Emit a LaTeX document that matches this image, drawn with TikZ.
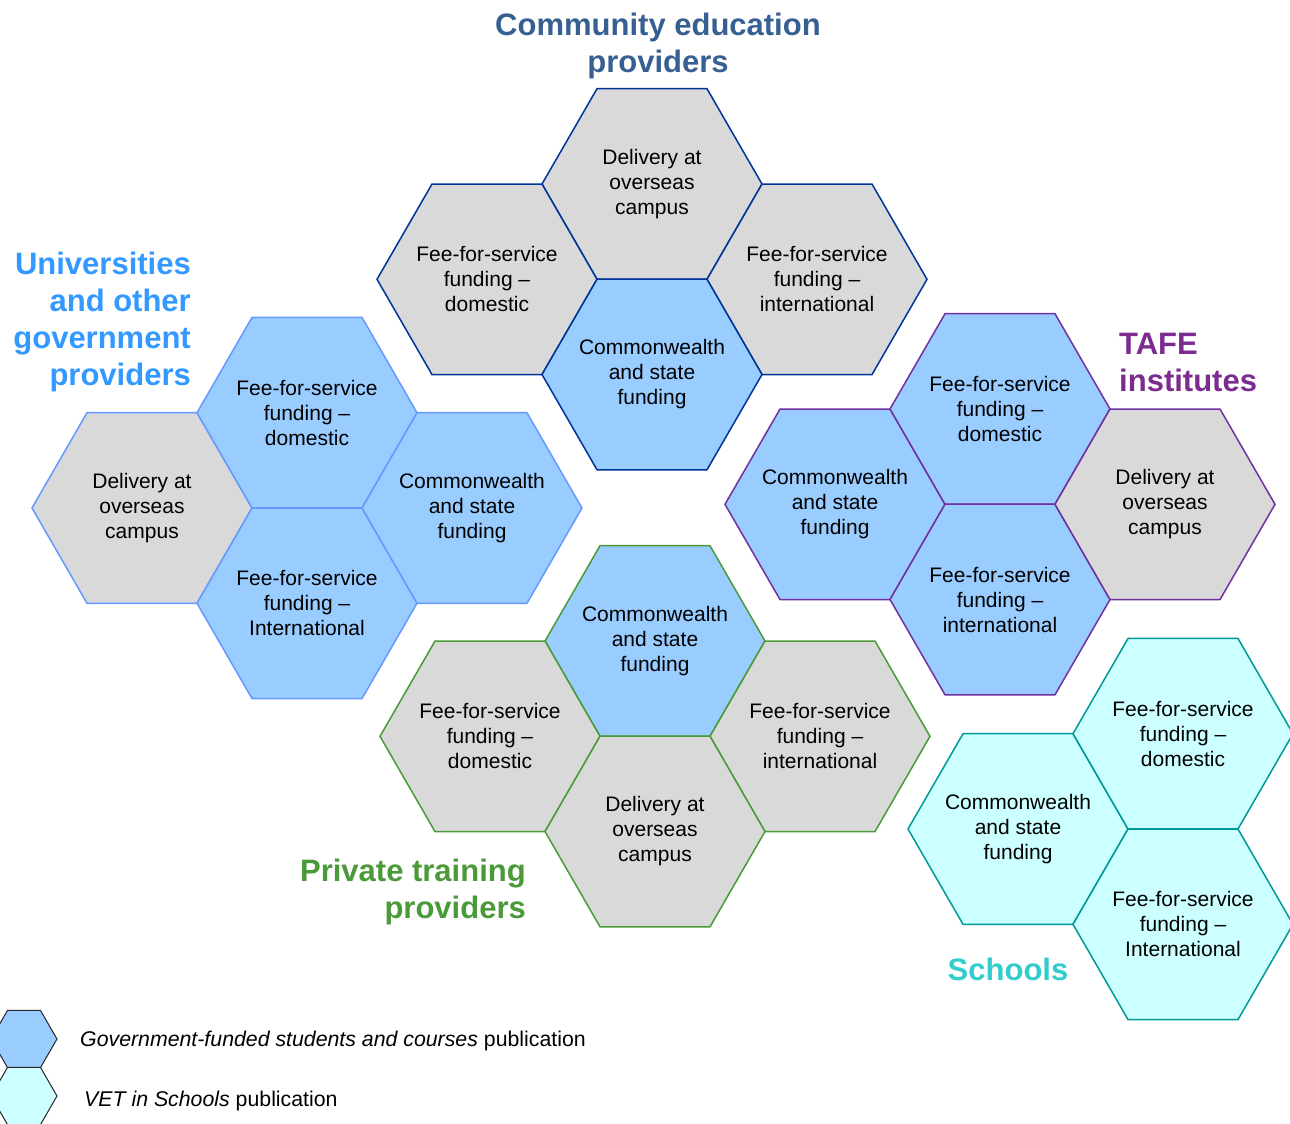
\documentclass[tikz,border=0pt]{standalone}
\usepackage{fontspec}
\setmainfont{Liberation Sans}
\usetikzlibrary{shapes.geometric}
\definecolor{hexgrey}{HTML}{D9D9D9}
\definecolor{hexblue}{HTML}{99CCFF}
\definecolor{hexcyan}{HTML}{CCFFFF}
\definecolor{celine}{HTML}{003399}
\definecolor{uniline}{HTML}{6699FF}
\definecolor{tafeline}{HTML}{7030A0}
\definecolor{ptpline}{HTML}{4A9A3A}
\definecolor{schline}{HTML}{009999}
\definecolor{cetitle}{HTML}{376092}
\definecolor{unititle}{HTML}{3399FF}
\definecolor{tafetitle}{HTML}{7B2C8E}
\definecolor{ptptitle}{HTML}{4A9A3A}
\definecolor{schtitle}{HTML}{33CCCC}
\begin{document}
\begin{tikzpicture}[x=1pt, y=-1pt,
    hex/.style={regular polygon, regular polygon sides=6, minimum size=220pt,
        inner sep=-20pt, line width=1.5pt, align=center,
        font=\fontsize{21}{25}\selectfont},
    greyhex/.style={hex, fill=hexgrey},
    bluehex/.style={hex, fill=hexblue},
    cyanhex/.style={hex, fill=hexcyan},
    keyhex/.style={regular polygon, regular polygon sides=6, minimum size=66pt,
        inner sep=0pt, line width=1pt, draw=black!85},
    title/.style={font=\fontsize{31}{37}\selectfont\bfseries, inner sep=0pt}]
    \useasboundingbox (0,0) rectangle (1290,1124);
    % community education providers
    \node[greyhex, draw=celine] (ceD) at (652,184) {Delivery at\\overseas\\campus};
    \node[greyhex, draw=celine] (ceFD) at (487,279.3) {Fee-for-service\\funding --\\domestic};
    \node[greyhex, draw=celine] (ceFI) at (817,279.3) {Fee-for-service\\funding --\\international};
    \node[bluehex, draw=celine] (ceCS) at (652,374.5) {Commonwealth\\and state\\funding};
    \node[title, text=cetitle, align=center] (ceT) at (658,46) {Community education\\providers};
    % universities
    \node[greyhex, draw=uniline] (uniD) at (142,508) {Delivery at\\overseas\\campus};
    \node[bluehex, draw=uniline] (uniFD) at (307,412.7) {Fee-for-service\\funding --\\domestic};
    \node[bluehex, draw=uniline] (uniFI) at (307,603.3) {Fee-for-service\\funding --\\International};
    \node[bluehex, draw=uniline] (uniCS) at (472,508) {Commonwealth\\and state\\funding};
    \node[title, text=unititle, align=right, anchor=east] (uniT) at (191,322)
        {Universities\\and other\\government\\providers};
    % TAFE
    \node[bluehex, draw=tafeline] (tafeCS) at (835,504.3) {Commonwealth\\and state\\funding};
    \node[bluehex, draw=tafeline] (tafeFD) at (1000,409) {Fee-for-service\\funding --\\domestic};
    \node[bluehex, draw=tafeline] (tafeFI) at (1000,599.5) {Fee-for-service\\funding --\\international};
    \node[greyhex, draw=tafeline] (tafeD) at (1165,504.3) {Delivery at\\overseas\\campus};
    \node[title, text=tafetitle, align=left, anchor=west] (tafeT) at (1119,362) {TAFE\\institutes};
    % private training providers
    \node[bluehex, draw=ptpline] (ptpCS) at (655,641) {Commonwealth\\and state\\funding};
    \node[greyhex, draw=ptpline] (ptpFD) at (490,736.3) {Fee-for-service\\funding --\\domestic};
    \node[greyhex, draw=ptpline] (ptpFI) at (820,736.3) {Fee-for-service\\funding --\\international};
    \node[greyhex, draw=ptpline] (ptpD) at (655,831.5) {Delivery at\\overseas\\campus};
    \node[title, text=ptptitle, align=right, anchor=east] (ptpT) at (526,892) {Private training\\providers};
    % schools
    \node[cyanhex, draw=schline] (schCS) at (1018,829) {Commonwealth\\and state\\funding};
    \node[cyanhex, draw=schline] (schFD) at (1183,733.7) {Fee-for-service\\funding --\\domestic};
    \node[cyanhex, draw=schline] (schFI) at (1183,924.3) {Fee-for-service\\funding --\\International};
    \node[title, text=schtitle] (schT) at (1008,969) {Schools};
    % key
    \node[keyhex, fill=hexblue] (keyGov) at (24,1039) {};
    \node[keyhex, fill=hexcyan] (keyVet) at (24,1096) {};
    \node[anchor=west, inner sep=0pt, font=\fontsize{21.3}{25}\selectfont] (keyGovT) at (80,1041)
        {\textit{Government-funded students and courses} publication};
    \node[anchor=west, inner sep=0pt, font=\fontsize{21.3}{25}\selectfont] (keyVetT) at (84,1101)
        {\textit{VET in Schools} publication};
\end{tikzpicture}
\end{document}
